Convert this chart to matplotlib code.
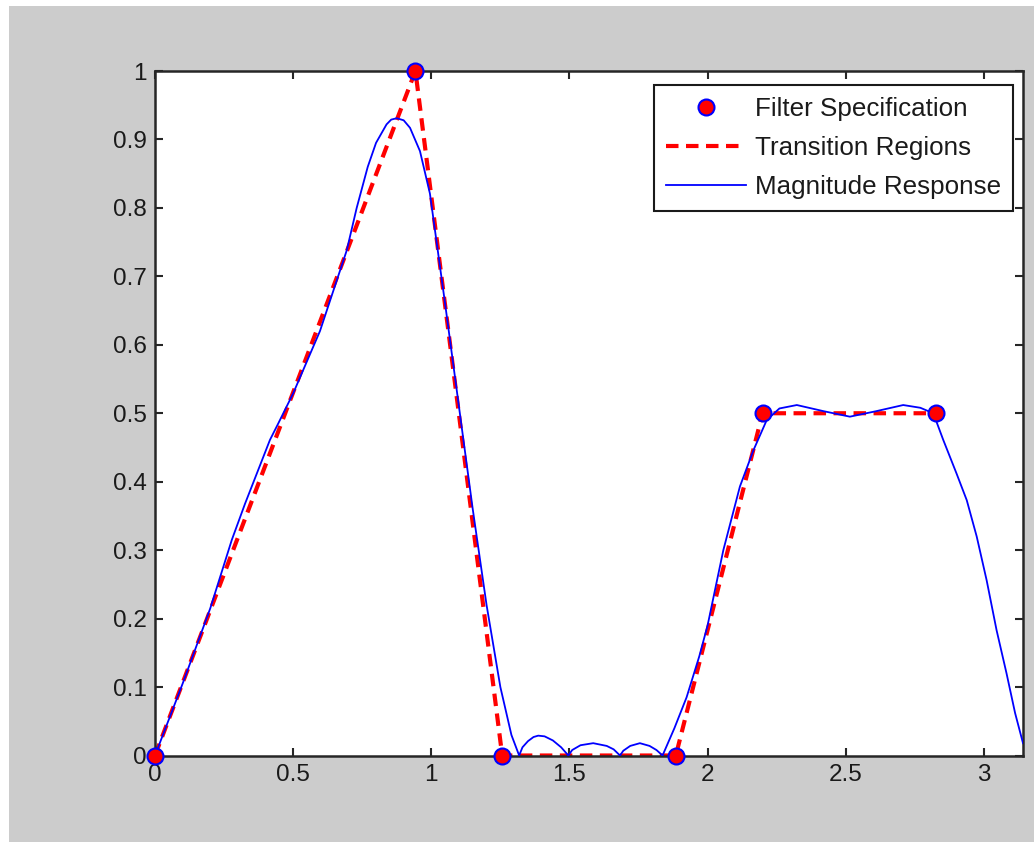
import matplotlib.pyplot as plt
from matplotlib.patches import Rectangle

# filter specification (band edges and desired magnitude)
spec_w = [0, 0.9425, 1.2566, 1.885, 2.199, 2.827]
spec_mag = [0, 1, 0, 0, 0.5, 0.5]

# magnitude response
resp_w = [0, 0.1, 0.2, 0.278, 0.326, 0.416, 0.446, 0.5, 0.597, 0.694, 0.73,
          0.77, 0.80, 0.838, 0.855, 0.875, 0.90, 0.923, 0.959, 0.995, 1.05, 1.1,
          1.15, 1.2, 1.25, 1.29, 1.318, 1.33, 1.35, 1.37, 1.387, 1.41, 1.44,
          1.47, 1.496, 1.51, 1.54, 1.586, 1.635, 1.66, 1.683, 1.695, 1.72,
          1.755, 1.79, 1.815, 1.837, 1.88, 1.924, 1.97, 2.0, 2.057,
          2.117, 2.166, 2.214, 2.26, 2.323, 2.42, 2.515, 2.61, 2.708, 2.77,
          2.817, 2.853, 2.901, 2.938, 2.974, 3.01, 3.046, 3.082, 3.113, 3.1416]
resp_mag = [0, 0.105, 0.215, 0.315, 0.368, 0.461, 0.485, 0.529, 0.62, 0.738, 0.80,
            0.86, 0.895, 0.922, 0.929, 0.931, 0.928, 0.917, 0.883, 0.821, 0.66, 0.51,
            0.36, 0.22, 0.10, 0.03, 0.0, 0.012, 0.021, 0.027, 0.029, 0.028, 0.022,
            0.012, 0.0, 0.008, 0.015, 0.018, 0.014, 0.009, 0.0, 0.007, 0.014,
            0.018, 0.014, 0.008, 0.0, 0.04, 0.085, 0.145, 0.19, 0.30,
            0.393, 0.446, 0.49, 0.507, 0.512, 0.503, 0.495, 0.503, 0.512, 0.508,
            0.50, 0.461, 0.412, 0.373, 0.32, 0.256, 0.183, 0.12, 0.062, 0.018]

xticks = [0, 0.5, 1, 1.5, 2, 2.5, 3]
xtick_labels = ['0', '0.5', '1', '1.5', '2', '2.5', '3']
yticks = [0, 0.1, 0.2, 0.3, 0.4, 0.5, 0.6, 0.7, 0.8, 0.9, 1]
ytick_labels = ['0', '0.1', '0.2', '0.3', '0.4', '0.5', '0.6', '0.7', '0.8', '0.9', '1']

plt.rcParams['font.family'] = ['Liberation Sans', 'DejaVu Sans']
fs = 17.5
txt = '#1a1a1a'

fig = plt.figure(figsize=(10.34, 8.42), dpi=100, facecolor='white')
fig.patches.append(Rectangle((9 / 1034, 0), 1, 836 / 842, transform=fig.transFigure,
                             facecolor='#cccccc', edgecolor='none', zorder=-10))

ax = fig.add_axes([155 / 1034, 1 - 755.5 / 842, 868 / 1034, 684.5 / 842])
ax.set_facecolor('white')

ax.plot(spec_w, spec_mag, '--', color='red', lw=3, dashes=(3, 1.8),
        label='Transition Regions', zorder=2)
ax.plot(resp_w, resp_mag, '-', color='blue', lw=1.3,
        label='Magnitude Response', zorder=3)
ax.plot(spec_w, spec_mag, 'o', color='red', markeredgecolor='blue', markersize=11.5,
        markeredgewidth=1.5, linestyle='none', label='Filter Specification',
        zorder=4, clip_on=False)

ax.set_xlim(0, 3.1416)
ax.set_ylim(0, 1)
ax.set_xticks(xticks)
ax.set_xticklabels(xtick_labels)
ax.set_yticks(yticks)
ax.set_yticklabels(ytick_labels)
ax.tick_params(direction='in', length=6, width=1.5, top=True, right=True,
               labelsize=fs, labelcolor=txt, color='#262626', pad=6)
for s in ax.spines.values():
    s.set_linewidth(1.8)
    s.set_color('#262626')

h, l = ax.get_legend_handles_labels()
order = [2, 0, 1]
leg = ax.legend([h[i] for i in order], [l[i] for i in order],
                loc='upper right', bbox_to_anchor=(1013 / 1034, 1 - 85 / 842),
                bbox_transform=fig.transFigure, borderaxespad=0,
                fontsize=18.7, fancybox=False, framealpha=1, edgecolor='#1a1a1a',
                handlelength=3.1, handletextpad=0.35, labelspacing=0.58, borderpad=0.45)
leg.get_frame().set_linewidth(1.5)
for t in leg.get_texts():
    t.set_color(txt)

fig.savefig('out.png', dpi=100)
